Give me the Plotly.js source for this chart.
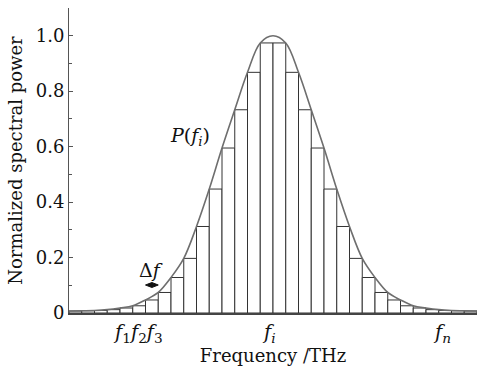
<!DOCTYPE html>
<html>
<head>
<meta charset="utf-8">
<script src="https://cdn.plot.ly/plotly-3.0.1.min.js"></script>
<style>html,body{margin:0;padding:0;background:#fff;}#chart{width:477px;height:366px;}</style>
</head>
<body>
<div id="chart"></div>
<script>
// Bin centres (bin index units) and the normalized spectral power of each bin
const binCenters = [0.5,1.5,2.5,3.5,4.5,5.5,6.5,7.5,8.5,9.5,10.5,11.5,12.5,13.5,14.5,15.5,
                    16.5,17.5,18.5,19.5,20.5,21.5,22.5,23.5,24.5,25.5,26.5,27.5,28.5,29.5,30.5,31.5];
const binPower = [0.007,0.008,0.009,0.012,0.018,0.026,0.047,0.074,0.128,0.197,0.312,0.447,0.595,0.733,0.868,0.974,
                  0.974,0.868,0.733,0.595,0.447,0.312,0.197,0.128,0.074,0.047,0.026,0.018,0.012,0.009,0.008,0.007];
// Envelope P(f) read at the bin edges
const curveFreq = [0,1,2,3,4,5,6,7,8,9,10,11,12,13,14,15,16,17,18,19,20,21,22,23,24,25,26,27,28,29,30,31,32];
const curvePower = [0.007,0.008,0.009,0.012,0.018,0.026,0.047,0.074,0.128,0.197,0.312,0.447,0.595,0.733,0.868,0.974,1.0,
                    0.974,0.868,0.733,0.595,0.447,0.312,0.197,0.128,0.074,0.047,0.026,0.018,0.012,0.009,0.008,0.007];
// Axis ticks
const yTickVals = [0,0.2,0.4,0.6,0.8,1.0];
const yTickText = ['0','0.2','0.4','0.6','0.8','1.0'];
// Frequency labels below the axis
const freqLabelText = ['<i>f</i><sub>1</sub><i>f</i><sub>2</sub><i>f</i><sub>3</sub>','<i>f</i><sub><i>i</i></sub>','<i>f</i><sub><i>n</i></sub>'];
const freqLabelX = [5.45, 15.7, 29.25];

const serif = 'DejaVu Serif, serif';
const ink = '#111';

const annotations = freqLabelText.map((t, k) => ({
  x: freqLabelX[k], y: -0.066, xref: 'x', yref: 'paper', text: t, showarrow: false,
  font: {family: serif, size: 19.5, color: ink}, xanchor: 'center', yanchor: 'middle'
}));
annotations.push({x: 9.5, y: 0.638, xref: 'x', yref: 'y', showarrow: false,
  text: '<i>P</i>(<i>f</i><sub><i>i</i></sub>)', font: {family: serif, size: 19, color: ink}});
annotations.push({x: 6.4, y: 0.155, xref: 'x', yref: 'y', showarrow: false,
  text: 'Δ<i>f</i>', font: {family: serif, size: 19, color: ink}});

// Δf marker spans one bin (bin 7: edges 6..7)
const dfL = 6, dfR = 7, dfY = 0.101, dfH = 0.009;
const shapes = [{
  type: 'path', xref: 'x', yref: 'y',
  path: `M ${dfL},${dfY} L ${(dfL+dfR)/2},${dfY+dfH} L ${dfR},${dfY} L ${(dfL+dfR)/2},${dfY-dfH} Z`,
  fillcolor: '#111', line: {color: '#111', width: 1}
}];

const data = [
  {type: 'bar', x: binCenters, y: binPower, width: 1,
   marker: {color: '#ffffff', line: {color: '#333333', width: 1}}, hoverinfo: 'skip'},
  {type: 'scatter', mode: 'lines', x: curveFreq, y: curvePower,
   line: {color: '#6e6e6e', width: 1.6, shape: 'spline', smoothing: 1}, hoverinfo: 'skip'}
];

const layout = {
  width: 477, height: 366,
  margin: {l: 69, r: 0, t: 8, b: 53, pad: 0},
  paper_bgcolor: '#fff', plot_bgcolor: '#fff',
  showlegend: false, bargap: 0,
  font: {family: serif, size: 18, color: ink},
  xaxis: {
    range: [0, 32], showgrid: false, zeroline: false, showticklabels: false, ticks: '',
    showline: true, linecolor: '#444', linewidth: 1.5,
    title: {text: 'Frequency /THz', font: {family: serif, size: 18, color: ink}, standoff: 42}
  },
  yaxis: {
    range: [0, 1.1], showgrid: false, zeroline: false,
    tickvals: yTickVals, ticktext: yTickText, ticks: 'inside', ticklen: 4, tickcolor: '#555',
    minor: {ticks: 'inside', ticklen: 3, dtick: 0.1, tick0: 0, tickcolor: '#555'},
    showline: true, linecolor: '#555', linewidth: 1,
    tickfont: {family: serif, size: 18, color: ink},
    title: {text: 'Normalized spectral power', font: {family: serif, size: 18, color: ink}, standoff: 8}
  },
  annotations: annotations,
  shapes: shapes
};

Plotly.newPlot('chart', data, layout, {staticPlot: true, displayModeBar: false});
</script>
</body>
</html>
